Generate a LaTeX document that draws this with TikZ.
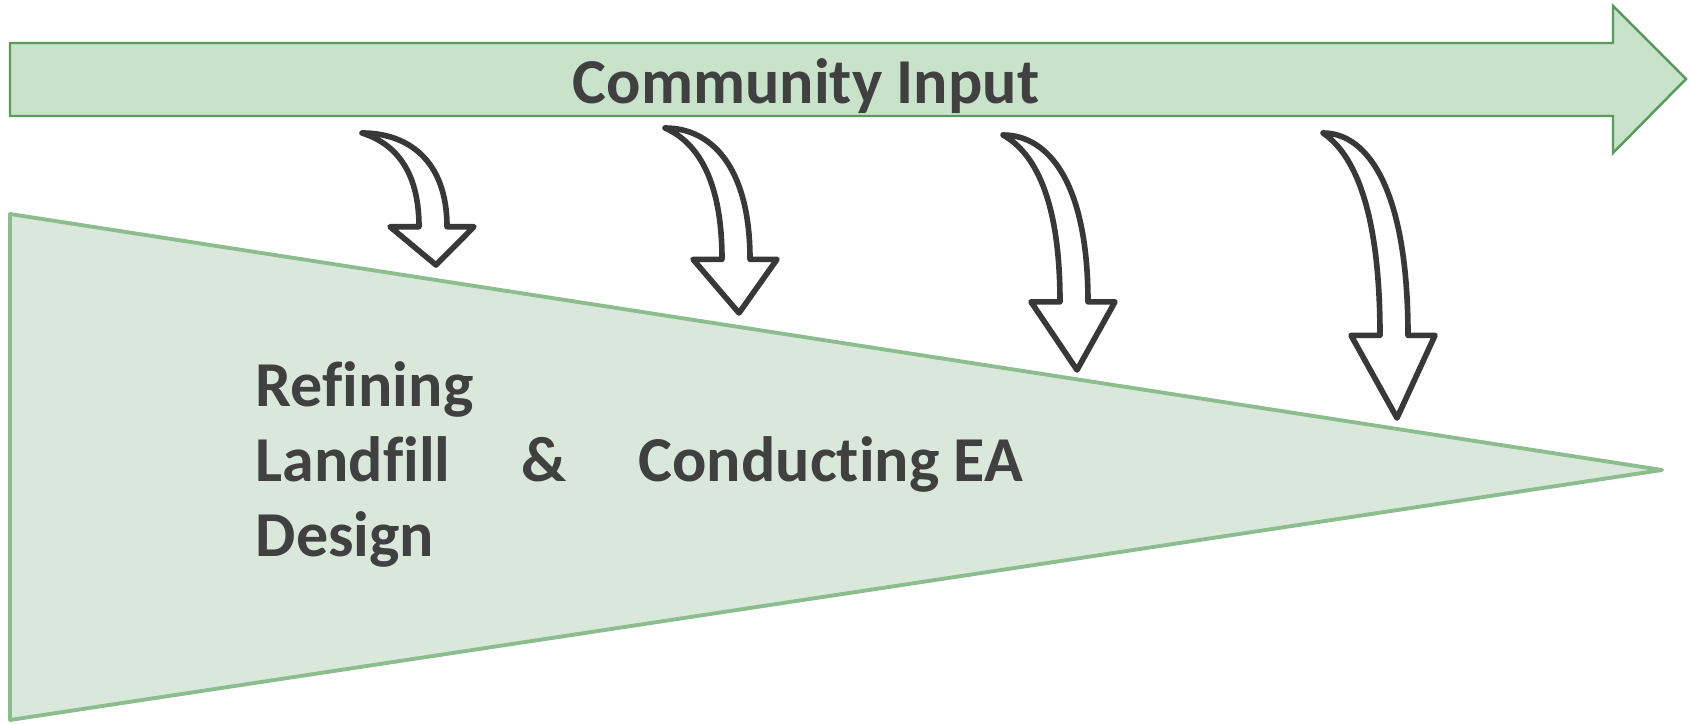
\documentclass[tikz,border=0pt]{standalone}
\usepackage{fontspec}
\setmainfont{Carlito}[Ligatures=NoCommon]
\definecolor{inputfill}{HTML}{C9E2CA}
\definecolor{inputdraw}{HTML}{5A9A5C}
\definecolor{wedgefill}{HTML}{DAE8DB}
\definecolor{wedgedraw}{HTML}{8CBD8E}
\definecolor{textgray}{HTML}{404040}
\definecolor{bentdraw}{HTML}{383838}

\begin{document}
\begin{tikzpicture}[x=0.01cm, y=0.01cm,
  txt/.style={font=\bfseries\fontsize{18.2}{22}\selectfont, text=textgray, inner sep=0pt},
  bent/.style={draw=bentdraw, fill=white, line width=1.6pt, line join=round},
  bentarrow/.pic={
    \path[bent] (0,0) .. controls (45,0) and (85,-0.2) .. (85,-0.71) -- (112,-0.71) -- (74,-1) -- (28,-0.71) -- (57,-0.71) .. controls (57,-0.22) and (25,-0.06) .. (0,0) -- cycle;
  }
]
\useasboundingbox (0,0) rectangle (1690,724);

\draw[fill=inputfill, draw=inputdraw, line width=0.7pt] (10,681) -- (1613,681) -- (1613,718) -- (1686,645) -- (1613,571) -- (1613,608) -- (10,608) -- cycle;
\node[txt, anchor=base] (CI) at (806,620) {Community Input};

\draw[fill=wedgefill, draw=wedgedraw, line width=1.1pt, line join=round] (10,510) -- (1662,254) -- (10,4) -- cycle;

\pic[yscale=132] (a1) at (362,591) {bentarrow};
\pic[yscale=185] (a2) at (665,596) {bentarrow};
\pic[yscale=235] (a3) at (1003,589) {bentarrow};
\pic[yscale=285] (a4) at (1323,591) {bentarrow};

\node[txt, anchor=base west] (refining) at (255,317) {Refining};
\node[txt, anchor=base west] (landfill) at (255,242) {Landfill};
\node[txt, anchor=base west] (design) at (255,167) {Design};
\node[txt, anchor=base west] (amp) at (521,242) {\&};
\node[txt, anchor=base west] (EA) at (638,242) {Conducting EA};

\end{tikzpicture}
\end{document}
